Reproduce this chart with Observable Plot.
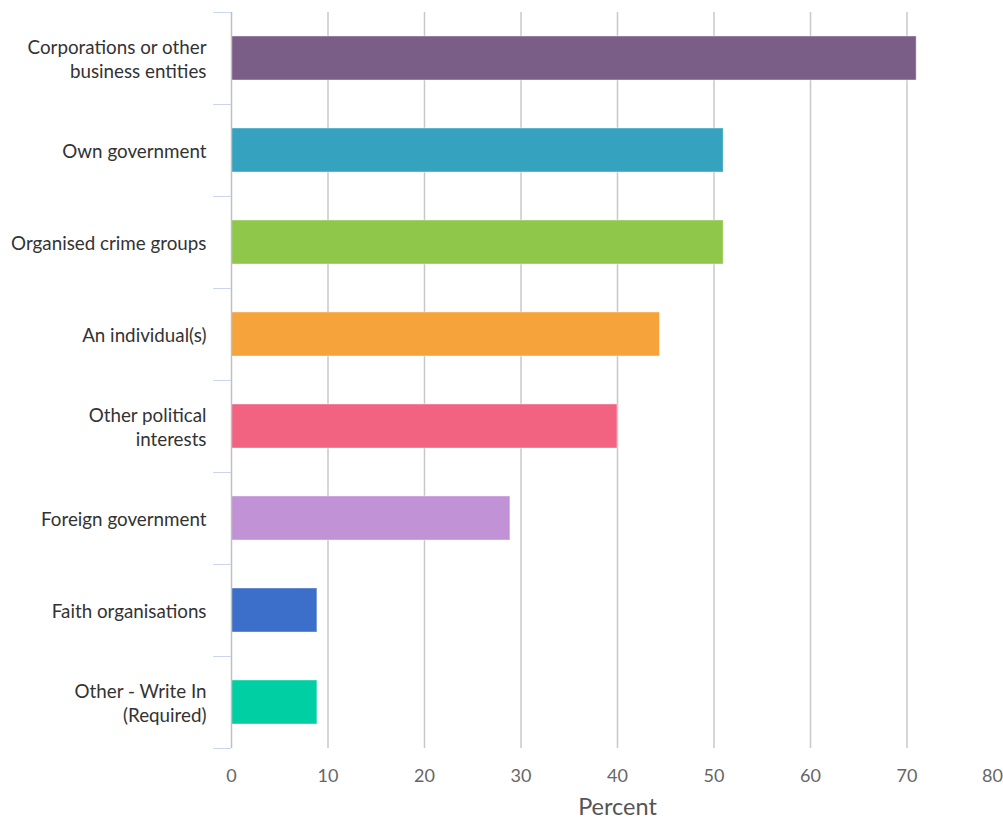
<!DOCTYPE html>
<html><head><meta charset="utf-8">
<script src="https://cdn.jsdelivr.net/npm/d3@7"></script>
<script src="https://cdn.jsdelivr.net/npm/@observablehq/plot@0.6"></script>
<style>body{margin:0;background:#fff;}</style>
</head><body><div id="chart"></div>
<script>
const categories = [
  "Corporations or other business entities",
  "Own government",
  "Organised crime groups",
  "An individual(s)",
  "Other political interests",
  "Foreign government",
  "Faith organisations",
  "Other - Write In (Required)"
];
const labels = [
  "Corporations or other\nbusiness entities",
  "Own government",
  "Organised crime groups",
  "An individual(s)",
  "Other political\ninterests",
  "Foreign government",
  "Faith organisations",
  "Other - Write In\n(Required)"
];
const values = [71, 51, 51, 44.4, 40, 28.9, 8.9, 8.9];
const colors = ["#7b5e88", "#35a2bf", "#8fc74a", "#f7a33b", "#f26382", "#c192d6", "#3c6fc9", "#00cfa3"];
const xTicks = [0, 10, 20, 30, 40, 50, 60, 70, 80];
const xLabel = "Percent";

const data = categories.map((c, i) => ({category: c, value: values[i]}));
const labelOf = new Map(categories.map((c, i) => [c, labels[i]]));

const chart = Plot.plot({
  width: 1003,
  height: 818,
  marginTop: 12,
  marginBottom: 70,
  marginLeft: 231,
  marginRight: 0,
  style: {fontFamily: "Lato, 'Open Sans', sans-serif", background: "#fff"},
  x: {domain: [0, 80]},
  y: {domain: categories, paddingInner: 0.52, paddingOuter: 0.26},
  color: {domain: categories, range: colors},
  marks: [
    Plot.gridX(xTicks.slice(1, -1), {stroke: "#c8c8c8", strokeOpacity: 1, strokeWidth: 1.5}),
    Plot.barX(data, {x: "value", y: "category", fill: "category", stroke: "#ffffff", strokeOpacity: 0.4, strokeWidth: 1}),
    Plot.ruleX([0], {stroke: "#c0c0c0", strokeWidth: 1.5}),
    Plot.axisY(categories, {tickSize: 18, dy: -46, tickFormat: () => "", stroke: "#ccd6eb", strokeOpacity: 1, label: null}),
    Plot.axisY(categories.slice(-1), {tickSize: 18, dy: 46, tickFormat: () => "", stroke: "#ccd6eb", strokeOpacity: 1, label: null}),
    Plot.axisY(categories, {tickSize: 0, tickPadding: 25, tickFormat: d => labelOf.get(d), fontSize: 18.8, lineHeight: 1.28, fill: "#333", label: null}),
    Plot.axisX(xTicks.slice(0, -1), {tickSize: 0, tickPadding: 21, fontSize: 18, fill: "#666", label: null}),
    Plot.axisX(xTicks.slice(-1), {tickSize: 0, tickPadding: 21, fontSize: 18, fill: "#666", dx: -11, label: null}),
    Plot.text([xLabel], {frameAnchor: "bottom", dy: 66, fontSize: 23.5, fill: "#555"})
  ]
});
document.getElementById("chart").append(chart);
</script>
</body></html>
